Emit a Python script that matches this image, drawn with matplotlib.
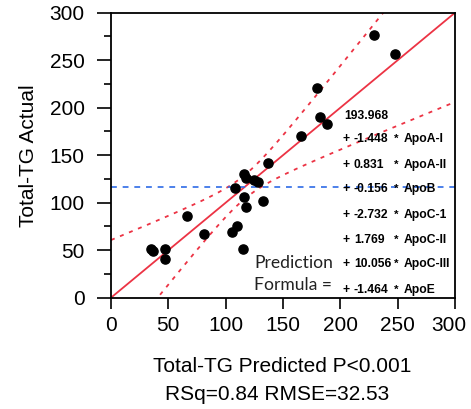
import numpy as np
import matplotlib
matplotlib.use("Agg")
import matplotlib.pyplot as plt
import matplotlib.transforms as mtransforms
from matplotlib.ticker import MultipleLocator

plt.rcParams['font.family'] = ['Liberation Sans', 'DejaVu Sans']

# Observations: predicted vs actual total TG
predicted = [229.5, 247.5, 179.5, 182.4, 188.8, 166.0, 137.3, 116.0, 117.5, 125.0,
             128.5, 108.5, 116.0, 117.5, 132.6, 66.5, 81.4, 105.6, 110.0, 114.9,
             34.5, 36.3, 47.1, 47.1]
actual = [277.0, 257.0, 220.7, 190.5, 182.5, 170.5, 142.0, 130.0, 126.0, 124.0,
          122.0, 116.0, 105.7, 95.5, 101.8, 85.7, 67.4, 69.5, 75.5, 51.6,
          51.6, 49.2, 51.6, 41.0]

# Fit summary shown on the leverage plot
mean_actual = 116.8
band_center_halfwidth = 12.5
band_spread = 0.2586

formula_const = "193.968"
coefs = ["-1.448", "0.831", "-0.156", "-2.732", "1.769", "10.056", "-1.464"]
terms = ["ApoA-I", "ApoA-II", "ApoB", "ApoC-1", "ApoC-II", "ApoC-III", "ApoE"]

xticks = [0, 50, 100, 150, 200, 250, 300]
yticks = [0, 50, 100, 150, 200, 250, 300]

RED = '#ec3344'
BLUE = '#2d6be6'

fig = plt.figure(figsize=(4.71, 4.09), dpi=100)
ax = fig.add_axes([111 / 471, 1 - 297.7 / 409, 344 / 471, 285 / 409])
ax.set_xlim(0, 300)
ax.set_ylim(0, 300)

# Fit line and confidence curves
xs = np.linspace(0, 300, 400)
half = np.sqrt(band_center_halfwidth ** 2 + band_spread * (xs - mean_actual) ** 2)
ax.plot(xs, xs, color=RED, lw=1.3, zorder=2)
ax.plot(xs, xs + half, color=RED, lw=1.3, ls=(0, (2.2, 3.2)), zorder=2)
ax.plot(xs, xs - half, color=RED, lw=1.3, ls=(0, (2.2, 3.2)), zorder=2)
ax.axhline(mean_actual, color=BLUE, lw=1.2, ls=(0, (3.5, 3.5)), zorder=2)

ax.plot(predicted, actual, 'o', color='black', ms=6.6, zorder=3)

# Prediction formula
ax.text(125, 36.5, "Prediction", fontsize=12.6, family=['Lato', 'DejaVu Sans'],
        va='center', ha='left', color='#222222')
ax.text(125, 13.4, "Formula =", fontsize=12.6, family=['Lato', 'DejaVu Sans'],
        va='center', ha='left', color='#222222')
ys_lines = [191.3, 166.7, 139.7, 114.4, 87.4, 60.4, 35.5, 8.1]
fs = 8.7
ax.text(203.3, ys_lines[0], formula_const, fontsize=fs, fontweight='bold',
        va='center', ha='left')
for yv, c, t in zip(ys_lines[1:], coefs, terms):
    ax.text(202.3, yv, "+", fontsize=fs, fontweight='bold', va='center', ha='left')
    ax.text(211.8, yv, c, fontsize=fs, fontweight='bold', va='center', ha='left')
    ax.text(246.6, yv, "*", fontsize=fs - 0.5, fontweight='bold', va='center', ha='left')
    ax.text(255.6, yv, t, fontsize=fs, fontweight='bold', va='center', ha='left')

# Axes styling
ax.set_xticks(xticks)
ax.set_yticks(yticks)
ax.yaxis.set_minor_locator(MultipleLocator(25))
ax.tick_params(axis='y', which='major', direction='out', length=10, width=1.2,
               labelsize=15, pad=9)
ax.tick_params(axis='y', which='minor', direction='out', length=5, width=1.2)
ax.tick_params(axis='x', which='major', direction='out', length=8, width=1.2,
               labelsize=15, pad=5)
for s in ax.spines.values():
    s.set_linewidth(1.3)

# keep the last x tick label inside the canvas
last = ax.get_xticklabels()[-1]
last.set_transform(last.get_transform() +
                   mtransforms.ScaledTranslation(-6 / 100, 0, fig.dpi_scale_trans))

ax.set_ylabel("Total-TG Actual", fontsize=15, labelpad=8)
fig.text(282 / 471, 1 - 366 / 409, "Total-TG Predicted P<0.001", fontsize=15,
         ha='center', va='center')
fig.text(277 / 471, 1 - 394 / 409, "RSq=0.84 RMSE=32.53", fontsize=15,
         ha='center', va='center')

fig.savefig("out.png", dpi=100)
